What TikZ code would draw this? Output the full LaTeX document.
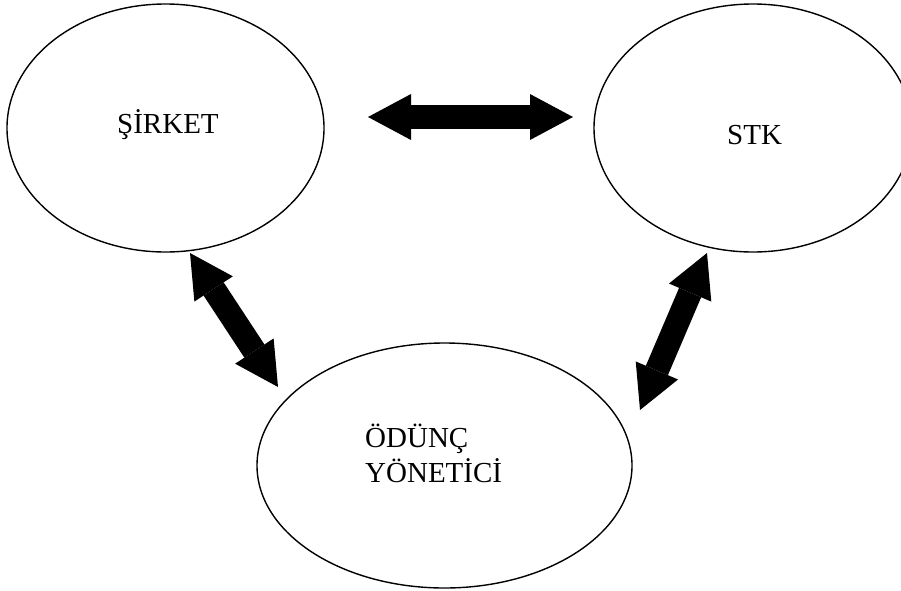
\documentclass[tikz,border=0pt]{standalone}
\usepackage{fontspec}
\setmainfont{Liberation Serif}
\usetikzlibrary{shapes.geometric,arrows.meta,calc}
\begin{document}
\begin{tikzpicture}[x=1pt,y=-1pt,
  oval/.style={draw=black,line width=1.4pt,ellipse,inner sep=0pt},
  lbl/.style={inner sep=0pt,font=\fontsize{29}{35}\selectfont},
  biarrow/.style={line width=24pt,{Triangle[length=43pt,width=46pt,line width=0pt]}-{Triangle[length=43pt,width=46pt,line width=0pt]}}]
\useasboundingbox (0,0) rectangle (901,590);
\node[oval,minimum width=317pt,minimum height=248pt] (sirket) at (165.5,128) {};
\node[oval,minimum width=318pt,minimum height=248pt] (stk) at (753,128) {};
\node[oval,minimum width=375pt,minimum height=245pt] (odunc) at (444.5,465.5) {};
\node[lbl,anchor=base west] (tsirket) at (117,133) {ŞİRKET};
\node[lbl,anchor=base west] (tstk) at (727,144) {STK};
\node[lbl,anchor=base west,align=left] (todunc) at (365,482) {ÖDÜNÇ\\YÖNETİCİ};
\draw[biarrow] ($(sirket.center)+(202.5,-11)$) -- ($(stk.center)+(-180,-11)$);
\draw[biarrow] ($(sirket.center)+(24.5,125)$) -- ($(odunc.center)+(-166.5,-78.5)$);
\draw[biarrow] ($(stk.center)+(-46,125)$) -- ($(odunc.center)+(195.5,-55.5)$);
\end{tikzpicture}
\end{document}
